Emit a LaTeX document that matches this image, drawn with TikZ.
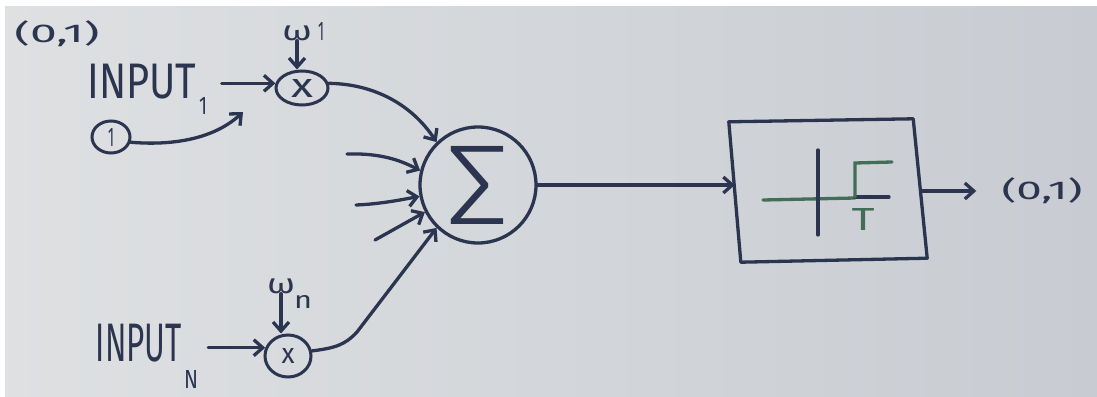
\documentclass[tikz,border=0pt]{standalone}
\usepackage{fontspec}
\setmainfont{Fira Sans}
\newfontfamily\thinfont{Fira Sans Light}
\usetikzlibrary{arrows.meta,shapes.geometric,calc}
\definecolor{ink}{HTML}{2B3550}
\definecolor{grn}{HTML}{426E58}
\definecolor{bgl}{HTML}{DEE0E2}
\definecolor{bgr}{HTML}{C8CCD2}
\tikzset{
  inkline/.style={draw=ink, line width=3.3pt, line cap=round, line join=round},
  arr/.style={inkline, -{Straight Barb[length=9pt,width=16pt,line width=3.3pt]}},
  lbl/.style={text=ink, inner sep=0pt},
  mult/.style={ellipse, draw=ink, line width=3pt, inner sep=0pt, text=ink},
  stepline/.style={draw=grn, line width=3.3pt, line cap=round},
}
\begin{document}
\begin{tikzpicture}[x=1pt,y=-1pt]
\useasboundingbox (0,0) rectangle (1097,396);
\fill[white] (0,0) rectangle (1097,396);
\shade[left color=bgl,right color=bgr] (5,7) rectangle (1097,396);

% labels
\node[lbl] (zo) at (57,34) {\resizebox*{85pt}{26pt}{(0,1)}};
\node[lbl] (in1) at (142,82) {\resizebox*{109pt}{35pt}{INPUT}};
\node[lbl] (in1s) at (203,106) {\resizebox*{8pt}{17pt}{1}};
\node[lbl] (w1) at (297,33) {\resizebox*{30pt}{15pt}{ω}};
\node[lbl] (w1s) at (321,31) {\resizebox*{6pt}{18pt}{1}};
\node[mult, minimum width=52pt, minimum height=34pt] (x1) at (302,88) {\resizebox*{22pt}{18pt}{x}};
\node[mult, minimum width=38pt, minimum height=32pt] (one) at (111,137) {\resizebox*{6pt}{18pt}{1}};
\node[circle, draw=ink, line width=3.3pt, minimum size=116pt, inner sep=0pt, text=ink] (sig) at (478,185) {\resizebox*{64pt}{78pt}{\thinfont Σ}};
\node[lbl] (wn) at (281,286) {\resizebox*{28pt}{15pt}{ω}};
\node[lbl] (wns) at (303,302) {\resizebox*{18pt}{13pt}{n}};
\node[mult, minimum width=46pt, minimum height=42pt] (xN) at (288,356) {\resizebox*{13pt}{15pt}{x}};
\node[lbl] (inN) at (139,343) {\resizebox*{86pt}{38pt}{INPUT}};
\node[lbl] (inNs) at (191,379) {\resizebox*{14pt}{18pt}{N}};
\node[draw=none, minimum width=186pt, minimum height=140pt, inner sep=0pt] (box) at (828,191) {};
\node[lbl] (out) at (1042,191) {\resizebox*{81pt}{26pt}{(0,1)}};

% box outline (hand drawn)
\draw[inkline] ($(box.north west)+(-6,1)$) -- ($(box.north east)+(-8,-2)$)
  -- ($(box.south east)+(6,-3)$) -- ($(box.south west)+(6,1)$) -- cycle;

% step function inside box
\draw[stepline] (763,200) -- (855,198);
\draw[inkline] (855,197) -- (889,197);
\draw[inkline] (818,150) -- (818,235);
\draw[stepline] (855,197) -- (855,163) -- (892,162);
\node[lbl, text=grn] (T) at (863,219) {\resizebox*{23pt}{22pt}{T}};

% connectors
\coordinate (c1tip) at (243,112);
\coordinate (a1) at (347,154);
\coordinate (a2) at (356,205);
\coordinate (a3) at (375,240);

\draw[arr] ($(in1.east |- x1.170)+(25,0)$) -- (x1.170);
\draw[arr] (w1.south) -- (w1.south |- x1.north);
\draw[arr] (one.-15) .. controls (175,146) and (215,138) .. (c1tip);
\draw[arr] (x1.10) .. controls (375,84) and (412,105) .. (sig.134);
\draw[arr] (a1) .. controls (380,153) and (400,160) .. (sig.166);
\draw[arr] (a2) .. controls (380,204) and (400,200) .. (sig.191);
\draw[arr] (a3) -- (sig.207);

\draw[arr] ($(inN.east |- xN.160)+(26,0)$) -- (xN.160);
\draw[arr] (wn.south) -- (wn.south |- xN.north);
\draw[arr] (xN.12) .. controls (335,348) and (345,345) .. (357,332) -- (sig.226);

\draw[arr] (sig.east) -- (sig.east -| box.west);
\draw[arr] (box.east) -- ($(out.west)+(-25,0)$);
\end{tikzpicture}
\end{document}
